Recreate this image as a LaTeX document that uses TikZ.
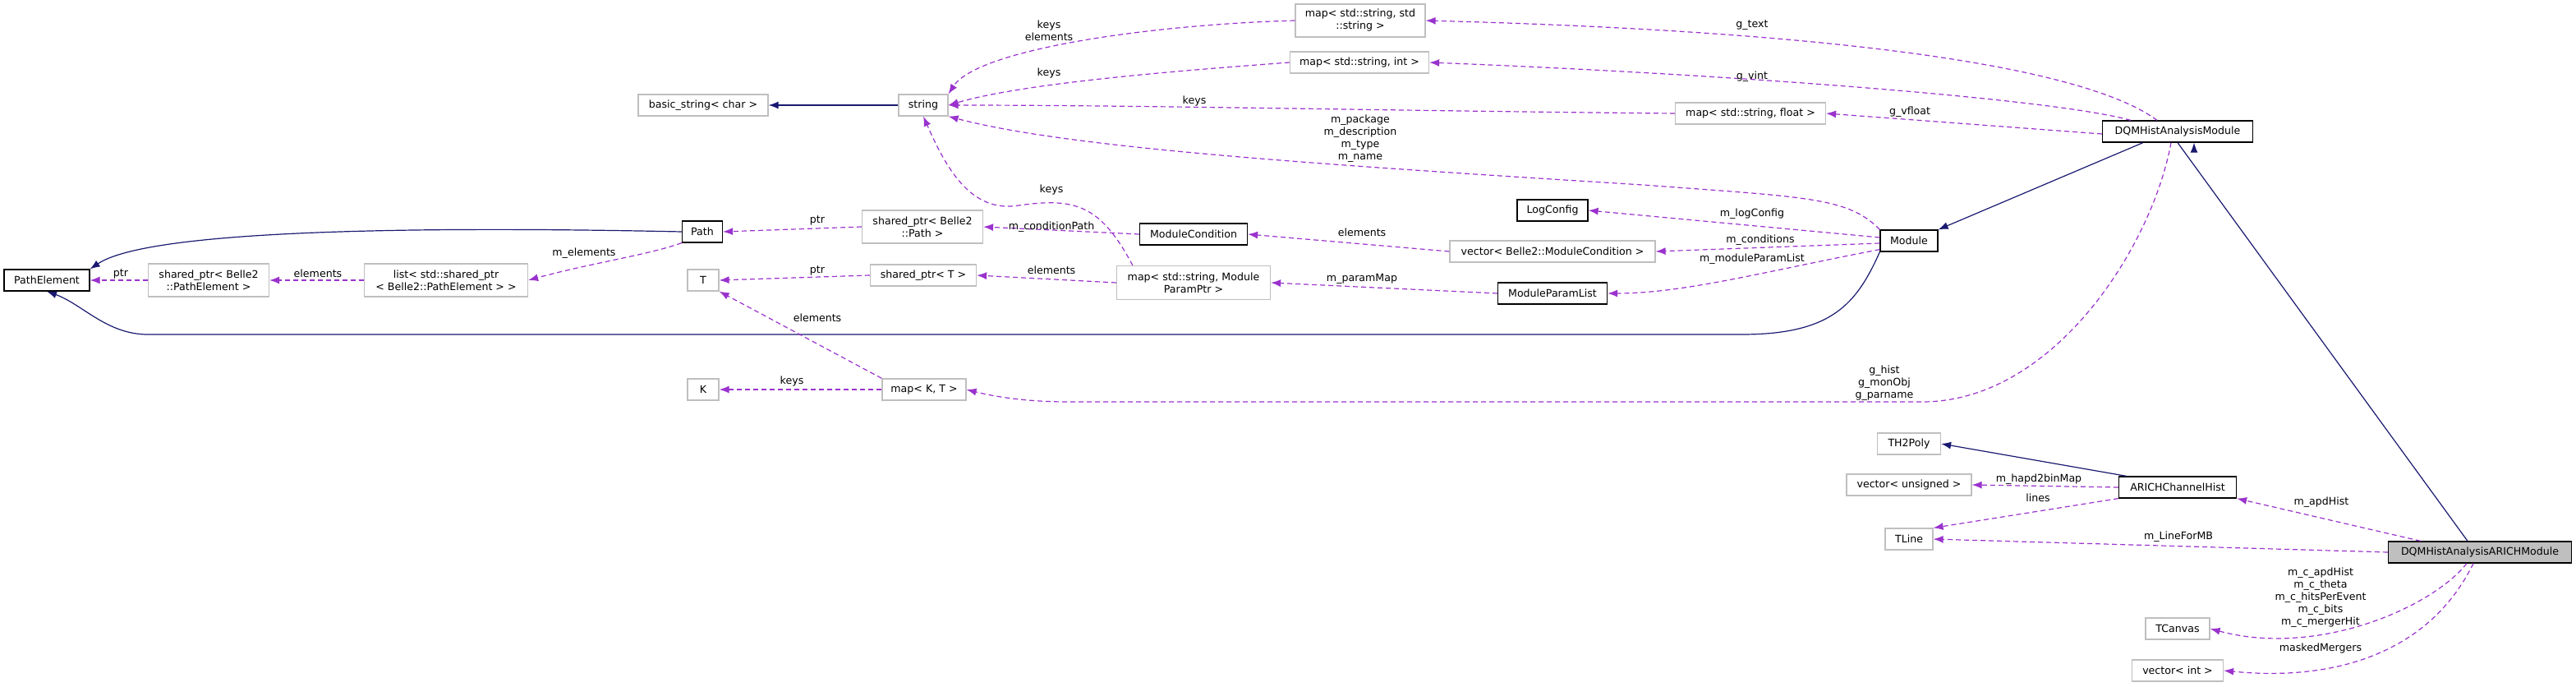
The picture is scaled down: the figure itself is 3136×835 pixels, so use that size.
\documentclass[tikz,border=0pt]{standalone}
\usepackage{fontspec}
\setmainfont{DejaVu Sans}
\usetikzlibrary{arrows.meta}
\definecolor{inh}{HTML}{191970}
\definecolor{use}{HTML}{9A32CD}
\begin{document}
\begin{tikzpicture}[x=0.5pt,y=-0.5pt,
  font=\fontsize{6.3}{7.5}\selectfont,
  box/.style={draw=black,line width=0.6pt,fill=white,inner sep=0pt,align=center},
  ext/.style={draw=black!25,line width=0.6pt,fill=white,inner sep=0pt,align=center},
  sz/.style 2 args={minimum width={#1*0.5pt},minimum height={#2*0.5pt}},
  isa/.style={draw=inh,line width=0.6pt,-{Latex[length=6pt,width=4.5pt]}},
  has/.style={draw=use,line width=0.6pt,dash pattern=on 3pt off 2pt,-{Latex[length=6pt,width=4.5pt]}},
  lab/.style={inner sep=0pt,align=center}]
\useasboundingbox (0,0) rectangle (3136,835);
% nodes
\node[box,sz={104}{26}] (pe) at (57,341) {PathElement};
\node[ext,sz={147}{40}] (spe) at (254,341) {shared\_ptr< Belle2\\::PathElement >};
\node[ext,sz={199}{40}] (lst) at (543,341) {list< std::shared\_ptr\\< Belle2::PathElement > >};
\node[box,sz={49}{26}] (path) at (855,282) {Path};
\node[ext,sz={158}{26}] (bs) at (856,128) {basic\_string< char >};
\node[ext,sz={38}{26}] (T) at (856,341) {T};
\node[ext,sz={38}{26}] (K) at (856,474) {K};
\node[ext,sz={147}{40}] (spp) at (1123,276) {shared\_ptr< Belle2\\::Path >};
\node[ext,sz={129}{26}] (spt) at (1124,335) {shared\_ptr< T >};
\node[ext,sz={60}{26}] (str) at (1124,128) {string};
\node[ext,sz={102}{26}] (mkt) at (1125,474) {map< K, T >};
\node[ext,sz={158}{40}] (mss) at (1656,25) {map< std::string, std\\::string >};
\node[ext,sz={169}{26}] (msi) at (1655,76) {map< std::string, int >};
\node[ext,sz={183}{26}] (msf) at (2131,138) {map< std::string, float >};
\node[box,sz={86}{26}] (lc) at (1890,256) {LogConfig};
\node[box,sz={131}{26}] (mc) at (1453,285) {ModuleCondition};
\node[ext,sz={250}{26}] (vmc) at (1890,306) {vector< Belle2::ModuleCondition >};
\node[ext,sz={187}{41}] (mmp) at (1453,344) {map< std::string, Module\\ParamPtr >};
\node[box,sz={133}{26}] (mpl) at (1890,357) {ModuleParamList};
\node[box,sz={183}{26}] (dqm) at (2651,160) {DQMHistAnalysisModule};
\node[box,sz={70}{26}] (mod) at (2324,293) {Module};
\node[ext,sz={77}{26}] (th2) at (2324,540) {TH2Poly};
\node[ext,sz={152}{26}] (vu) at (2324,590) {vector< unsigned >};
\node[box,sz={143}{26}] (ach) at (2651,593) {ARICHChannelHist};
\node[ext,sz={58}{26}] (tl) at (2324,656) {TLine};
\node[box,sz={223}{26},fill=black!25] (arm) at (3019,672) {DQMHistAnalysisARICHModule};
\node[ext,sz={78}{26}] (tc) at (2651,765) {TCanvas};
\node[ext,sz={111}{26}] (vi) at (2651,816) {vector< int >};
% inheritance
\draw[isa] (str) -- (bs);
\draw[isa] (path.west) .. controls (500,275) and (180,280) .. (pe.north east);
\draw[isa] (mod.south west) .. controls (2260,370) and (2230,407) .. (2120,407) -- (180,407) .. controls (130,407) and (100,370) .. (pe.south);
\draw[isa] (dqm.south west) ++(50,0) -- (mod.north east);
\draw[isa] (arm.north) ++(-15,0) -- (dqm.south) ++(20,0);
\draw[isa] (ach.north west) ++(10,0) -- (th2.east);
% usage
\draw[has] (mss.west) .. controls (1400,30) and (1190,60) .. (str.north east);
\draw[has] (msi.west) .. controls (1450,85) and (1250,100) .. (str.east);
\draw[has] (msf.west) .. controls (1700,135) and (1400,128) .. (str.east);
\draw[has] (mod.north west) .. controls (2250,240) and (2200,240) .. (2000,225) .. controls (1600,200) and (1300,180) .. (str.south east);
\draw[has] (mmp.north west) ++(20,0) .. controls (1340,250) and (1310,240) .. (1240,250) .. controls (1180,260) and (1150,200) .. (str.south);
\draw[has] (dqm.north) ++(-25,0) .. controls (2550,90) and (2300,40) .. (mss.east);
\draw[has] (dqm.north west) ++(35,0) .. controls (2500,120) and (2100,90) .. (msi.east);
\draw[has] (dqm.west) ++(0,3) -- (msf.east);
\draw[has] (dqm.south) ++(-8,0) .. controls (2620,300) and (2500,489) .. (2340,489) -- (1300,489) .. controls (1240,489) and (1200,480) .. (mkt.east);
\draw[has] (mod.west) ++(0,-4) -- (lc.east);
\draw[has] (mod.west) ++(0,3) -- (vmc.east);
\draw[has] (mod.south west) ++(0,-3) .. controls (2150,330) and (2050,357) .. (mpl.east);
\draw[has] (vmc.west) -- (mc.east);
\draw[has] (mc.west) -- (spp.east);
\draw[has] (mpl.west) -- (mmp.east);
\draw[has] (mmp.west) -- (spt.east);
\draw[has] (spt.west) -- (T.east);
\draw[has] (spp.west) -- (path.east);
\draw[has] (path.south west) .. controls (790,310) and (720,320) .. (lst.east);
\draw[has] (lst.west) -- (spe.east);
\draw[has] (spe.west) -- (pe.east);
\draw[has] (mkt.north west) -- (T.south east);
\draw[has] (mkt.west) -- (K.east);
\draw[has] (ach.west) -- (vu.east);
\draw[has] (ach.south west) -- (tl.north east);
\draw[has] (arm.north west) ++(40,0) -- (ach.south east);
\draw[has] (arm.west) -- (tl.east);
\draw[has] (arm.south) ++(-16,0) .. controls (2960,740) and (2820,800) .. (tc.east);
\draw[has] (arm.south) ++(-8,0) .. controls (2960,790) and (2850,830) .. (vi.east);
% labels
\node[lab] (l1) at (147,333) {ptr};
\node[lab] (l2) at (387,333) {elements};
\node[lab] (l3) at (711,308) {m\_elements};
\node[lab] (l4) at (995,268) {ptr};
\node[lab] (l5) at (995,329) {ptr};
\node[lab] (l6) at (995,387) {elements};
\node[lab] (l7) at (964,464) {keys};
\node[lab] (l8) at (1277,37) {keys\\elements};
\node[lab] (l9) at (1277,89) {keys};
\node[lab] (l10) at (1454,123) {keys};
\node[lab] (l11) at (1656,169) {m\_package\\m\_description\\m\_type\\m\_name};
\node[lab] (l12) at (1280,231) {keys};
\node[lab] (l13) at (1280,276) {m\_conditionPath};
\node[lab] (l14) at (1658,283) {elements};
\node[lab] (l15) at (1280,329) {elements};
\node[lab] (l16) at (1658,339) {m\_paramMap};
\node[lab] (l17) at (2133,31) {g\_text};
\node[lab] (l18) at (2133,93) {g\_vint};
\node[lab] (l19) at (2325,136) {g\_vfloat};
\node[lab] (l20) at (2133,260) {m\_logConfig};
\node[lab] (l21) at (2143,292) {m\_conditions};
\node[lab] (l22) at (2133,315) {m\_moduleParamList};
\node[lab] (l23) at (2294,466) {g\_hist\\g\_monObj\\g\_parname};
\node[lab] (l24) at (2482,583) {m\_hapd2binMap};
\node[lab] (l25) at (2481,606) {lines};
\node[lab] (l26) at (2826,611) {m\_apdHist};
\node[lab] (l27) at (2652,653) {m\_LineForMB};
\node[lab] (l28) at (2825,727) {m\_c\_apdHist\\m\_c\_theta\\m\_c\_hitsPerEvent\\m\_c\_bits\\m\_c\_mergerHit};
\node[lab] (l29) at (2825,789) {maskedMergers};
\end{tikzpicture}
\end{document}
